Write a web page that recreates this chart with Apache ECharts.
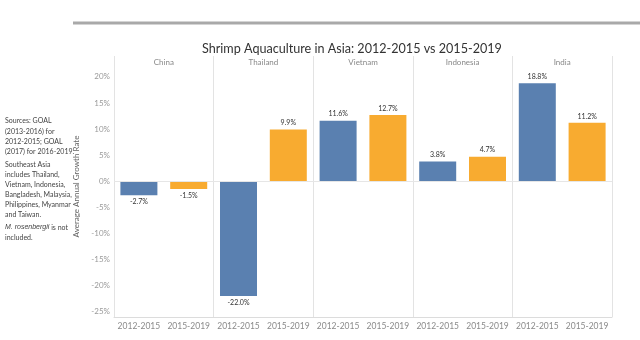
<!DOCTYPE html>
<html>
<head>
<meta charset="utf-8">
<script src="https://cdn.jsdelivr.net/npm/echarts@6/dist/echarts.min.js"></script>
<style>
html,body{margin:0;padding:0;background:#fff;}
#main{width:640px;height:340px;}
</style>
</head>
<body>
<div id="main"></div>
<script>
// ---- data ----
var countries = ['China', 'Thailand', 'Vietnam', 'Indonesia', 'India'];
var periods = ['2012-2015', '2015-2019'];
var growth2012_2015 = [-2.7, -22.0, 11.6, 3.8, 18.8];
var growth2015_2019 = [-1.5, 9.9, 12.7, 4.7, 11.2];
var yTickLabels = [-25, -20, -15, -10, -5, 0, 5, 10, 15, 20];

var periodColors = ['#5a80b0', '#f8ab30'];
var FONT = 'Lato, "Open Sans", sans-serif';

// build category list + bar data
var cats = [];
var barData = [];
countries.forEach(function (c, i) {
  var vals = [growth2012_2015[i], growth2015_2019[i]];
  periods.forEach(function (p, j) {
    cats.push(p);
    barData.push({
      value: vals[j],
      itemStyle: { color: periodColors[j] },
      label: { position: vals[j] >= 0 ? 'top' : 'bottom' }
    });
  });
});

var chart = echarts.init(document.getElementById('main'), null, { renderer: 'canvas' });
chart.setOption({
  animation: false,
  backgroundColor: '#ffffff',
  textStyle: { fontFamily: FONT },
  title: {
    text: 'Shrimp Aquaculture in Asia: 2012-2015 vs 2015-2019',
    left: 197,
    top: 37,
    textStyle: { fontSize: 12.6, fontWeight: 'normal', color: '#333', fontFamily: FONT }
  },
  grid: { left: 114, right: 28, top: 56, bottom: 23, containLabel: false },
  xAxis: [
    {
      type: 'category',
      data: cats,
      position: 'bottom',
      axisLine: { onZero: false, lineStyle: { color: '#dcdcdc' } },
      axisTick: { show: false },
      axisLabel: { color: '#8a8a8a', fontSize: 8.5, margin: 5, interval: 0 },
      splitLine: {
        show: true,
        interval: function (idx) { return idx % 2 === 0; },
        lineStyle: { color: '#e3e3e3', width: 1 }
      }
    },
    {
      type: 'category',
      data: countries,
      position: 'top',
      axisLine: { show: false },
      axisTick: { show: false },
      axisLabel: { inside: true, color: '#888', fontSize: 8, margin: 2, interval: 0 }
    }
  ],
  yAxis: {
    type: 'value',
    min: -26,
    max: 24,
    interval: 1,
    name: 'Average Annual Growth Rate',
    nameLocation: 'middle',
    nameRotate: 90,
    nameGap: 26,
    nameTextStyle: { color: '#666', fontSize: 8, fontFamily: FONT },
    axisLine: { show: false },
    axisTick: { show: false },
    splitLine: { show: false },
    axisLabel: {
      color: '#999',
      fontSize: 8,
      margin: 4,
      formatter: function (v) {
        return yTickLabels.indexOf(v) >= 0 ? v + '%' : '';
      }
    }
  },
  series: [
    {
      type: 'bar',
      xAxisIndex: 0,
      data: barData,
      barWidth: 37,
      label: {
        show: true,
        fontSize: 7,
        color: '#333',
        distance: 3,
        formatter: function (p) { return p.value.toFixed(1) + '%'; }
      },
      markLine: {
        silent: true,
        symbol: 'none',
        label: { show: false },
        lineStyle: { color: '#e6e6e6', type: 'solid', width: 1 },
        data: [{ yAxis: 0 }]
      }
    }
  ],
  graphic: [
    {
      type: 'rect',
      shape: { x: 73, y: 21.5, width: 567, height: 3 },
      style: { fill: '#a9a9a9' },
      silent: true
    },
    {
      type: 'text',
      left: 5,
      top: 116,
      style: {
        text: 'Sources: GOAL\n(2013-2016) for\n2012-2015; GOAL\n(2017) for 2016-2019.',
        font: '7px ' + FONT,
        fill: '#444',
        lineHeight: 10.2
      }
    },
    {
      type: 'text',
      left: 5,
      top: 160,
      style: {
        text: 'Southeast Asia\nincludes Thailand,\nVietnam, Indonesia,\nBangladesh, Malaysia,\nPhilippines, Myanmar\nand Taiwan.',
        font: '7px ' + FONT,
        fill: '#444',
        lineHeight: 10
      }
    },
    {
      type: 'text',
      left: 5,
      top: 222,
      style: {
        text: '{i|M. rosenbergii} is not\nincluded.',
        font: '7px ' + FONT,
        fill: '#444',
        lineHeight: 10.5,
        rich: { i: { fontStyle: 'italic', fontSize: 7, fill: '#444', lineHeight: 10.5 } }
      }
    }
  ]
});
</script>
</body>
</html>
